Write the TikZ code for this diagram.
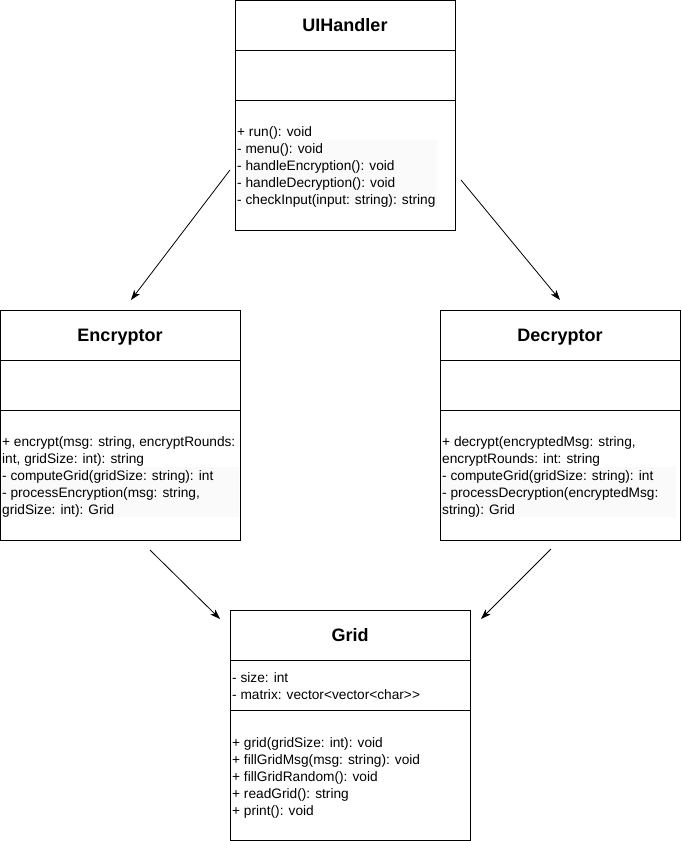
\documentclass[tikz,border=0pt]{standalone}
\usepackage{fontspec}
\setmainfont{Liberation Sans}
\usetikzlibrary{arrows.meta,positioning}

\begin{document}
\begin{tikzpicture}[x=1pt,y=-1pt]
  % Local definitions
  \def\lineskip{17}

  % Colors
  \colorlet{pastecolor}{black!2}

  % Styles
  \tikzstyle{class box}=[draw,line width=1pt,anchor=north west,inner sep=0pt,minimum height=230pt]
  \tikzstyle{class name}=[anchor=base,inner sep=0pt,font=\fontsize{18}{21}\selectfont\bfseries]
  \tikzstyle{member}=[anchor=base west,inner sep=0pt,font=\fontsize{13.7}{17}\selectfont]
  \tikzstyle{important line}=[line width=1pt]
  \tikzstyle{dependency}=[-{Stealth[length=10pt,width=7pt,inset=2.5pt]},line width=0.8pt]

  \useasboundingbox (0,0) rectangle (681,841);

  % pasted-text shading
  \fill[pastecolor] (236,140) rectangle (437,207);
  \fill[pastecolor] (1,467) rectangle (239,517);
  \fill[pastecolor] (441,467) rectangle (676,517);

  % UIHandler
  \node[class box,minimum width=220pt] (uihandler) at (235,0) {};
  \node[class name] (uihandler name) at (345,31.5) {UIHandler};
  \draw[important line] (235,50) -- (455,50);
  \draw[important line] (235,100) -- (455,100);
  \foreach \t [count=\i] in {+ run(): void, - menu(): void, - handleEncryption(): void,
      - handleDecryption(): void, {- checkInput(input: string): string}}
    \node[member] (uihandler m\i) at (237,{119+\lineskip*\i}) {\t};

  % Encryptor
  \node[class box,minimum width=240pt] (encryptor) at (0,310) {};
  \node[class name] (encryptor name) at (120,341.5) {Encryptor};
  \draw[important line] (0,360) -- (240,360);
  \draw[important line] (0,410) -- (240,410);
  \foreach \t [count=\i] in {{+ encrypt(msg: string, encryptRounds:}, {int, gridSize: int): string},
      - computeGrid(gridSize: string): int, {- processEncryption(msg: string,}, {gridSize: int): Grid}}
    \node[member] (encryptor m\i) at (2,{429+\lineskip*\i}) {\t};

  % Decryptor
  \node[class box,minimum width=240pt] (decryptor) at (440,310) {};
  \node[class name] (decryptor name) at (560,341.5) {Decryptor};
  \draw[important line] (440,360) -- (680,360);
  \draw[important line] (440,410) -- (680,410);
  \foreach \t [count=\i] in {{+ decrypt(encryptedMsg: string,}, encryptRounds: int: string,
      - computeGrid(gridSize: string): int, - processDecryption(encryptedMsg:, string): Grid}
    \node[member] (decryptor m\i) at (442,{429+\lineskip*\i}) {\t};

  % Grid
  \node[class box,minimum width=240pt] (grid) at (230,610) {};
  \node[class name] (grid name) at (350,641.5) {Grid};
  \draw[important line] (230,660) -- (470,660);
  \draw[important line] (230,710) -- (470,710);
  \node[member] (grid a1) at (232,682) {- size: int};
  \node[member] (grid a2) at (232,699) {- matrix: vector{<}vector{<}char{>}{>}};
  \foreach \t [count=\i] in {+ grid(gridSize: int): void, + fillGridMsg(msg: string): void,
      + fillGridRandom(): void, + readGrid(): string, + print(): void}
    \node[member] (grid m\i) at (232,{730+\lineskip*\i}) {\t};

  % Lines
  \coordinate (ui left) at (230,170);
  \coordinate (ui right) at (461,180);
  \coordinate (enc top) at (131,300);
  \coordinate (dec top) at (560,300);
  \coordinate (enc bottom) at (150,550);
  \coordinate (dec bottom) at (551,549);
  \coordinate (grid left) at (220,619);
  \coordinate (grid right) at (481,619);
  \draw[dependency] (ui left) -- (enc top);
  \draw[dependency] (ui right) -- (dec top);
  \draw[dependency] (enc bottom) -- (grid left);
  \draw[dependency] (dec bottom) -- (grid right);

\end{tikzpicture}
\end{document}
